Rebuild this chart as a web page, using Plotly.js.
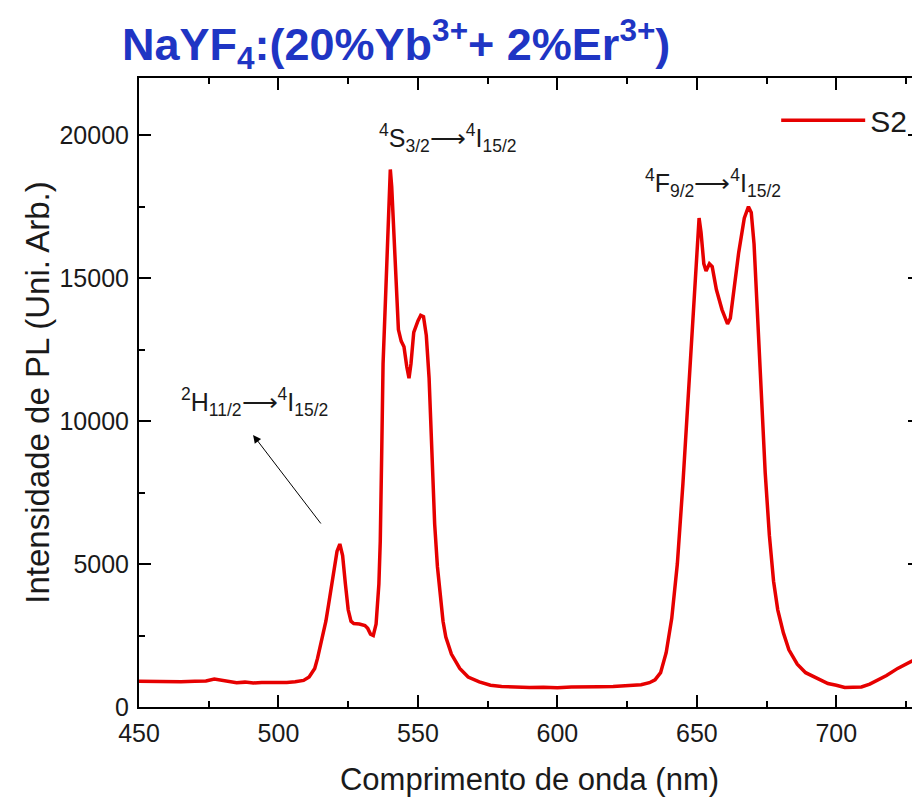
<!DOCTYPE html>
<html>
<head>
<meta charset="utf-8">
<script src="https://cdn.plot.ly/plotly-3.0.1.min.js"></script>
<style>
html, body { margin:0; padding:0; overflow:hidden; background:#fff; }
#chart { width:920px; height:798px; }
</style>
</head>
<body>
<div id="chart"></div>
<script>
// Wavelength (nm)
const wavelength = [
 450,455,460,465,470,474,477,479,482,485,488,491,494,497,500,503,506,509,511,513,
 514,515,516,517,518,519,520,521,522,523,524,525,526,527,529,531,532,533,534,535,
 536,536.5,537,537.5,538.5,539.2,539.6,540.1,540.6,541.2,541.9,543,544,545,546,546.8,547.5,548.5,550,551,
 552,553,554,555,556,557,558,559,560,562,565,568,572,576,580,585,590,595,600,605,
 610,615,620,625,630,633,635,637,639,641,643,645,647,649,650,650.8,651.5,652.5,653.3,654.5,
 655.5,657,659,661,662,663,665,667,668.5,669.5,670.5,671.5,673,674.5,676,677.5,679,681,683,686,
 689,693,697,700,703,706,709,712,715,718,722,726,730
];
// PL intensity, sample S2 (arb. units)
const intensityS2 = [
 900,890,900,880,900,910,980,950,880,850,870,840,860,850,870,860,880,930,1050,1350,
 1700,2100,2500,3000,3600,4200,4900,5450,5700,5300,4300,3400,3000,2920,2900,2850,2750,2550,2500,2900,
 4300,5800,8800,12000,14600,16500,18000,18800,18200,17000,15800,13200,12800,12600,11900,11500,12000,13100,13500,13700,
 13650,13000,11500,8800,6400,4900,3800,3000,2450,1850,1350,1050,880,760,720,700,680,690,670,700,
 690,710,720,740,780,850,950,1200,1900,3100,5000,7800,11000,14500,16200,17100,16600,15500,15250,15500,
 15400,14600,13900,13400,13600,14400,15900,17100,17500,17300,16200,14200,11200,8200,6000,4400,3400,2600,2000,1500,
 1200,1000,820,760,680,690,700,800,950,1100,1350,1550,1750
];
const seriesName = 'S2';
const xTicks = [450, 500, 550, 600, 650, 700];
const yTicks = [0, 5000, 10000, 15000, 20000];
const titleText = 'NaYF<sub>4</sub>:(20%Yb<sup>3+</sup>+ 2%Er<sup>3+</sup>)';
const xTitle = 'Comprimento de onda (nm)';
const yTitle = 'Intensidade de PL (Uni. Arb.)';
const labelS = '<sup>4</sup>S<sub>3/2</sub>⟶<sup>4</sup>I<sub>15/2</sub>';
const labelF = '<sup>4</sup>F<sub>9/2</sub>⟶<sup>4</sup>I<sub>15/2</sub>';
const labelH = '<sup>2</sup>H<sub>11/2</sub>⟶<sup>4</sup>I<sub>15/2</sub>';

const FONT = 'Liberation Sans, Arial, sans-serif';

const trace = {
  x: wavelength, y: intensityS2, type: 'scatter', mode: 'lines', name: seriesName,
  line: { color: '#e60000', width: 3.5 }
};

const axisCommon = {
  showline: true, linecolor: '#000', linewidth: 2, mirror: 'ticks',
  ticks: 'inside', ticklen: 12, tickwidth: 2, tickcolor: '#000',
  showgrid: false, zeroline: false, ticklabelstandoff: 3,
  tickfont: { family: FONT, size: 25, color: '#1a1a1a' }
};

const layout = {
  width: 920, height: 798,
  margin: { l: 139, r: 0, t: 78, b: 91 },
  paper_bgcolor: '#fff', plot_bgcolor: '#fff',
  showlegend: true,
  title: {
    text: titleText, xref: 'container', yref: 'container',
    x: 122/920, xanchor: 'left', y: 1 - 44/798, yanchor: 'middle',
    font: { family: FONT, size: 45, color: '#1f35c4', weight: 'bold' }
  },
  xaxis: Object.assign({}, axisCommon, {
    range: [450, 730], tickvals: xTicks, ticktext: xTicks.map(String),
    minor: { ticks: 'inside', ticklen: 6, tickwidth: 2, tickcolor: '#000', dtick: 25, tick0: 450 },
    title: { text: xTitle, font: { family: FONT, size: 31, color: '#1a1a1a' }, standoff: 22 }
  }),
  yaxis: Object.assign({}, axisCommon, {
    range: [0, 22000], tickvals: yTicks, ticktext: yTicks.map(String),
    minor: { ticks: 'inside', ticklen: 6, tickwidth: 2, tickcolor: '#000', dtick: 2500, tick0: 0 },
    title: { text: yTitle, font: { family: FONT, size: 33, color: '#1a1a1a' }, standoff: 0 }
  }),
  legend: {
    x: 0.99, xanchor: 'right', y: 0.933, yanchor: 'middle',
    bgcolor: 'rgba(0,0,0,0)', borderwidth: 0, itemwidth: 84,
    font: { family: FONT, size: 30, color: '#1a1a1a' }
  },
  annotations: [
    { x: 560.8, y: 19900, xref: 'x', yref: 'y', text: labelS, showarrow: false,
      font: { family: FONT, size: 25, color: '#1a1a1a' } },
    { x: 655.8, y: 18330, xref: 'x', yref: 'y', text: labelF, showarrow: false,
      font: { family: FONT, size: 25, color: '#1a1a1a' } },
    { x: 491.5, y: 10670, xref: 'x', yref: 'y', text: labelH, showarrow: false,
      font: { family: FONT, size: 25, color: '#1a1a1a' } },
    { x: 490.9, y: 9514, xref: 'x', yref: 'y', ax: 515.6, ay: 6366, axref: 'x', ayref: 'y',
      text: '', showarrow: true, arrowhead: 2, arrowsize: 1.6, arrowwidth: 1, arrowcolor: '#000' }
  ]
};

Plotly.newPlot('chart', [trace], layout, { displayModeBar: false, staticPlot: true });
</script>
</body>
</html>
